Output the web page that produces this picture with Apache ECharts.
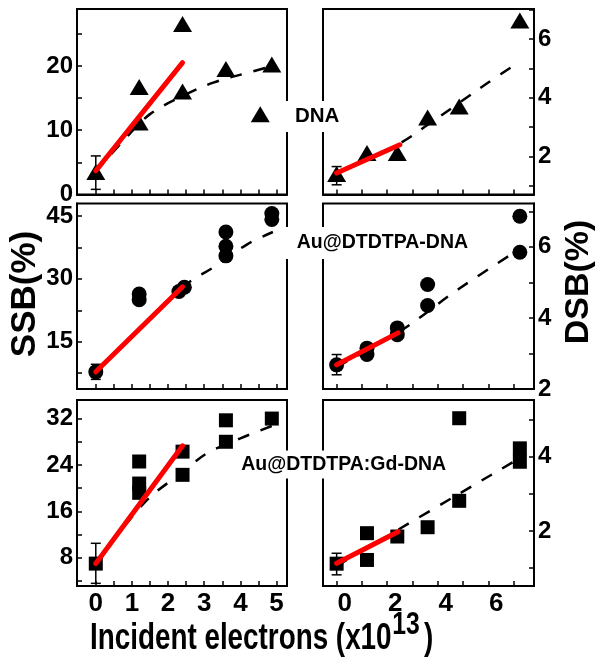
<!DOCTYPE html>
<html><head><meta charset="utf-8">
<script src="https://cdn.jsdelivr.net/npm/echarts@6/dist/echarts.min.js"></script>
<style>html,body{margin:0;padding:0;background:#fff}#c{width:604px;height:662px}</style>
</head><body><div id="c"></div><script>
// ---------- data ----------
// x: incident electrons (x10^13)
// SSB, DNA (triangles)
const ssbDnaX = [0, 1.2, 1.2, 2.4, 2.4, 3.6, 4.55, 4.87];
const ssbDnaY = [3.5, 16.7, 11.2, 26.5, 16.0, 19.5, 12.5, 20.2];
const ssbDnaErr = [0, 0.8, 6.0];
const ssbDnaFitX = [0, 2.4];
const ssbDnaFitY = [3.7, 20.5];
const ssbDnaTrendX = [0, 0.8, 1.5, 2.4, 3.25, 4.18, 4.9];
const ssbDnaTrendY = [3.5, 8.6, 12.5, 15.3, 17.4, 18.9, 20.0];
// DSB, DNA (triangles)
const dsbDnaX = [0, 1.2, 2.4, 3.6, 4.85, 7.25];
const dsbDnaY = [1.41, 2.12, 2.12, 3.33, 3.70, 6.63];
const dsbDnaErr = [0, 1.04, 1.66];
const dsbDnaFitX = [0, 2.5];
const dsbDnaFitY = [1.44, 2.40];
const dsbDnaTrendX = [0, 2.5, 3.62, 4.74, 6.0, 7.25];
const dsbDnaTrendY = [1.42, 2.45, 3.09, 3.76, 4.52, 5.23];
// SSB, Au@DTDTPA-DNA (circles)
const ssbAuX = [0, 1.2, 1.2, 2.3, 2.45, 3.6, 3.6, 3.6, 4.87, 4.87];
const ssbAuY = [7.8, 26.4, 25.0, 27.0, 28.0, 41.2, 37.8, 35.5, 45.6, 44.2];
const ssbAuErr = [0, 6.0, 9.6];
const ssbAuFitX = [0, 2.4];
const ssbAuFitY = [7.8, 28.1];
const ssbAuTrendX = [0, 2.4, 3.3, 4.2, 4.9];
const ssbAuTrendY = [7.8, 28.0, 33.0, 38.3, 41.2];
// DSB, Au@DTDTPA-DNA (circles)
const dsbAuX = [0, 1.2, 1.2, 2.4, 2.4, 3.6, 3.6, 7.25, 7.25];
const dsbAuY = [2.68, 3.15, 2.97, 3.72, 3.53, 4.94, 4.35, 6.86, 5.85];
const dsbAuErr = [0, 2.40, 2.97];
const dsbAuFitX = [0, 2.43];
const dsbAuFitY = [2.68, 3.58];
const dsbAuTrendX = [0, 2.5, 4.8, 7.2];
const dsbAuTrendY = [2.62, 3.62, 4.8, 5.92];
// SSB, Au@DTDTPA:Gd-DNA (squares)
const ssbGdX = [0, 1.2, 1.2, 1.2, 2.4, 2.4, 3.6, 3.6, 4.87];
const ssbGdY = [7.0, 24.6, 20.8, 19.2, 26.3, 22.3, 28.0, 31.7, 32.0];
const ssbGdErr = [0, 3.6, 10.5];
const ssbGdFitX = [0, 2.4];
const ssbGdFitY = [7.0, 27.3];
const ssbGdTrendX = [0, 1.36, 2.47, 3.07, 4.0, 4.9];
const ssbGdTrendY = [7.0, 17.6, 23.1, 26.0, 28.6, 30.8];
// DSB, Au@DTDTPA:Gd-DNA (squares)
const dsbGdX = [0, 1.2, 1.2, 2.4, 3.6, 4.85, 4.85, 7.25, 7.25];
const dsbGdY = [1.12, 1.94, 1.22, 1.85, 2.10, 2.81, 5.03, 4.22, 3.86];
const dsbGdErr = [0, 0.82, 1.40];
const dsbGdFitX = [0, 2.43];
const dsbGdFitY = [1.13, 1.98];
const dsbGdTrendX = [0, 7.2];
const dsbGdTrendY = [1.06, 3.94];

// tick values / labels
const leftXTicks = [0, 0.5, 1, 1.5, 2, 2.5, 3, 3.5, 4, 4.5, 5];
const leftXLabels = [0, 1, 2, 3, 4, 5];
const rightXTicks = [0, 1, 2, 3, 4, 5, 6, 7];
const rightXLabels = [0, 2, 4, 6];
const ssbDnaTicks = [0, 5, 10, 15, 20, 25];
const ssbDnaLabels = [0, 10, 20];
const dsbDnaTicks = [1, 2, 3, 4, 5, 6, 7];
const dsbDnaLabels = [2, 4, 6];
const ssbAuTicks = [7.5, 15, 22.5, 30, 37.5, 45];
const ssbAuLabels = [15, 30, 45];
const dsbAuTicks = [2, 3, 4, 5, 6, 7];
const dsbAuLabels = [2, 4, 6];
const ssbGdTicks = [4, 8, 12, 16, 20, 24, 28, 32];
const ssbGdLabels = [8, 16, 24, 32];
const dsbGdTicks = [1, 2, 3, 4, 5];
const dsbGdLabels = [2, 4];

const panelNames = ['DNA', 'Au@DTDTPA-DNA', 'Au@DTDTPA:Gd-DNA'];
const yTitleLeft = 'SSB(%)';
const yTitleRight = 'DSB(%)';
const xTitle = 'Incident electrons (x10';
const xTitleSup = '13';

// ---------- chart ----------
const FONT = '"Liberation Sans", Arial, Helvetica, sans-serif';
const zip = (xs, ys) => xs.map((x, i) => [x, ys[i]]);

const grids = [
  {left: 77, top: 9, width: 210, height: 185.5},
  {left: 323, top: 9, width: 211, height: 185.5},
  {left: 77, top: 203.5, width: 210, height: 185.5},
  {left: 323, top: 203.5, width: 211, height: 185.5},
  {left: 77, top: 400, width: 210, height: 186},
  {left: 323, top: 400, width: 211, height: 186}
].map(g => Object.assign({show: true, borderColor: '#000', borderWidth: 2,
  backgroundColor: 'transparent', containLabel: false, outerBoundsMode: 'none'}, g));

const axisLineStyle = {show: true, onZero: false, lineStyle: {color: '#000', width: 2}};

function xAxis(i) {
  const left = i % 2 === 0;
  const bottom = i >= 4;
  return {
    type: 'value', gridIndex: i, position: 'bottom',
    min: left ? -0.52 : -0.54, max: left ? 5.29 : 7.81,
    axisLine: axisLineStyle,
    splitLine: {show: false},
    axisTick: {show: true, inside: true, length: 5, lineStyle: {color: '#000', width: 1.5},
      customValues: left ? leftXTicks : rightXTicks},
    axisLabel: {show: bottom, customValues: left ? leftXLabels : rightXLabels,
      color: '#000', fontFamily: FONT, fontWeight: 'bold', fontSize: 26, margin: 5,
      padding: left ? 0 : [0, 0, 0, 16]}
  };
}
const yCfg = [
  {min: 0, max: 28.85, ticks: ssbDnaTicks, labels: ssbDnaLabels},
  {min: 0.71, max: 7.02, ticks: dsbDnaTicks, labels: dsbDnaLabels},
  {min: 3.7, max: 48.0, ticks: ssbAuTicks, labels: ssbAuLabels},
  {min: 2.0, max: 7.22, ticks: dsbAuTicks, labels: dsbAuLabels},
  {min: 3.14, max: 35.2, ticks: ssbGdTicks, labels: ssbGdLabels},
  {min: 0.52, max: 5.52, ticks: dsbGdTicks, labels: dsbGdLabels}
];
function yAxis(i) {
  const left = i % 2 === 0;
  const c = yCfg[i];
  return {
    type: 'value', gridIndex: i, position: left ? 'left' : 'right',
    min: c.min, max: c.max,
    axisLine: axisLineStyle,
    splitLine: {show: false},
    axisTick: {show: true, inside: true, length: 5, lineStyle: {color: '#000', width: 1.5},
      customValues: c.ticks},
    axisLabel: {show: true, customValues: c.labels, color: '#000', fontFamily: FONT,
      fontWeight: 'bold', fontSize: 24, margin: 4}
  };
}

function errRender(params, api) {
  const x = api.value(0), lo = api.value(1), hi = api.value(2);
  const p1 = api.coord([x, hi]), p2 = api.coord([x, lo]);
  const w = 5;
  const style = {stroke: '#000', lineWidth: 1.5};
  return {type: 'group', children: [
    {type: 'line', shape: {x1: p1[0], y1: p1[1], x2: p2[0], y2: p2[1]}, style},
    {type: 'line', shape: {x1: p1[0] - w, y1: p1[1], x2: p1[0] + w, y2: p1[1]}, style},
    {type: 'line', shape: {x1: p2[0] - w, y1: p2[1], x2: p2[0] + w, y2: p2[1]}, style}
  ]};
}

const panels = [
  {sym: 'triangle', size: [19, 16], pts: zip(ssbDnaX, ssbDnaY), err: ssbDnaErr, fit: zip(ssbDnaFitX, ssbDnaFitY), trend: zip(ssbDnaTrendX, ssbDnaTrendY)},
  {sym: 'triangle', size: [19, 16], pts: zip(dsbDnaX, dsbDnaY), err: dsbDnaErr, fit: zip(dsbDnaFitX, dsbDnaFitY), trend: zip(dsbDnaTrendX, dsbDnaTrendY)},
  {sym: 'circle', size: 15, pts: zip(ssbAuX, ssbAuY), err: ssbAuErr, fit: zip(ssbAuFitX, ssbAuFitY), trend: zip(ssbAuTrendX, ssbAuTrendY)},
  {sym: 'circle', size: 15, pts: zip(dsbAuX, dsbAuY), err: dsbAuErr, fit: zip(dsbAuFitX, dsbAuFitY), trend: zip(dsbAuTrendX, dsbAuTrendY)},
  {sym: 'rect', size: 14, pts: zip(ssbGdX, ssbGdY), err: ssbGdErr, fit: zip(ssbGdFitX, ssbGdFitY), trend: zip(ssbGdTrendX, ssbGdTrendY)},
  {sym: 'rect', size: 14, pts: zip(dsbGdX, dsbGdY), err: dsbGdErr, fit: zip(dsbGdFitX, dsbGdFitY), trend: zip(dsbGdTrendX, dsbGdTrendY)}
];

const series = [];
panels.forEach((p, i) => {
  series.push({type: 'custom', xAxisIndex: i, yAxisIndex: i, renderItem: errRender,
    data: [p.err], encode: {x: 0, y: [1, 2]}, z: 2, silent: true, clip: false});
  series.push({type: 'scatter', xAxisIndex: i, yAxisIndex: i, symbol: p.sym, symbolSize: p.size,
    data: p.pts, itemStyle: {color: '#000', opacity: 1}, z: 3, silent: true});
  series.push({type: 'line', xAxisIndex: i, yAxisIndex: i, data: p.trend, smooth: 0.35,
    showSymbol: false, symbol: 'none', lineStyle: {color: '#000', width: 2.5, type: [12, 12]}, z: 4, silent: true});
  series.push({type: 'line', xAxisIndex: i, yAxisIndex: i, data: p.fit, showSymbol: false, symbol: 'none',
    lineStyle: {color: '#ff0000', width: 5, cap: 'round'}, z: 5, silent: true});
});

const labelFont = 'bold 19.5px ' + FONT;
const graphic = [
  {type: 'text', x: 283, y: 116.5, z: 100, style: {text: panelNames[0], font: 'bold 20.5px ' + FONT, fill: '#000',
    backgroundColor: '#fff', padding: [5, 12], align: 'left', verticalAlign: 'middle'}},
  {type: 'text', x: 284.7, y: 243, z: 100, style: {text: panelNames[1], font: labelFont, fill: '#000',
    backgroundColor: '#fff', padding: [6, 12], align: 'left', verticalAlign: 'middle'}},
  {type: 'text', x: 231.2, y: 464.5, z: 100, style: {text: panelNames[2], font: labelFont, fill: '#000',
    backgroundColor: '#fff', padding: [4, 10], align: 'left', verticalAlign: 'middle'}},
  {type: 'text', x: 25, y: 294, rotation: Math.PI / 2, z: 100, style: {text: yTitleLeft,
    font: 'bold 35px ' + FONT, fill: '#000', align: 'center', verticalAlign: 'middle'}},
  {type: 'text', x: 579, y: 282, rotation: Math.PI / 2, z: 100, style: {text: yTitleRight,
    font: 'bold 34px ' + FONT, fill: '#000', align: 'center', verticalAlign: 'middle'}},
  {type: 'group', x: 90, y: 639, scaleX: 0.773, z: 100, children: [
    {type: 'text', x: 0, y: 0, z: 100, style: {text: xTitle, font: 'bold 36px ' + FONT, fill: '#000',
      align: 'left', verticalAlign: 'middle'}},
    {type: 'text', x: 391, y: -14, z: 100, style: {text: xTitleSup, font: 'bold 32px ' + FONT, fill: '#000',
      align: 'left', verticalAlign: 'middle'}},
    {type: 'text', x: 432, y: 0, z: 100, style: {text: ')', font: 'bold 36px ' + FONT, fill: '#000',
      align: 'left', verticalAlign: 'middle'}}
  ]}
];

const chart = echarts.init(document.getElementById('c'), null, {renderer: 'canvas'});
chart.setOption({
  animation: false,
  backgroundColor: '#fff',
  grid: grids,
  xAxis: [0, 1, 2, 3, 4, 5].map(xAxis),
  yAxis: [0, 1, 2, 3, 4, 5].map(yAxis),
  series: series,
  graphic: graphic
});
</script></body></html>
